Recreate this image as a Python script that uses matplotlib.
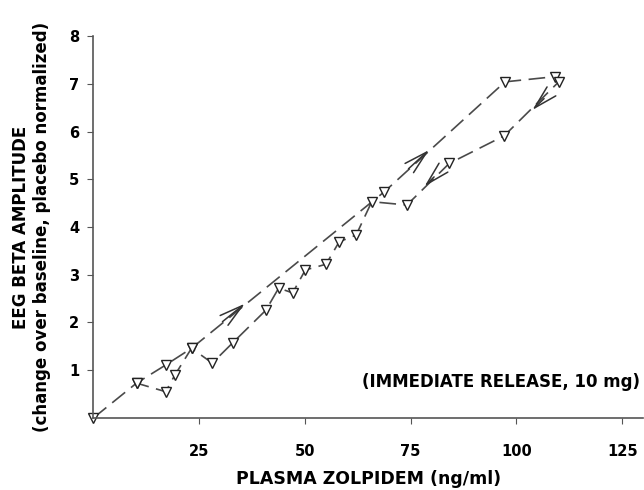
import matplotlib.pyplot as plt

# concentration (ng/ml) and EEG beta amplitude, in time order
conc = [0, 10.2, 17.1, 23.2, 68.8, 97.3, 109.2, 110.0,
        97.1, 84.1, 74.1, 65.8, 62.1, 58.1, 55.0, 50.1, 47.1, 43.8, 40.8,
        33.0, 28.1, 23.2, 19.2, 17.1, 10.2]
beta = [0, 0.73, 1.11, 1.46, 4.74, 7.04, 7.15, 7.04,
        5.91, 5.33, 4.46, 4.53, 3.83, 3.69, 3.22, 3.10, 2.62, 2.72, 2.26,
        1.58, 1.15, 1.46, 0.89, 0.55, 0.73]

# direction arrows: tip and a point behind it on the line
arrow_tip = [(36.3, 2.43), (79.8, 5.65), (103.3, 6.41), (77.8, 4.81)]
arrow_from = [(30.0, 1.98), (74.0, 5.18), (107.0, 6.73), (81.0, 5.09)]

xticks = [25, 50, 75, 100, 125]
yticks = [1, 2, 3, 4, 5, 6, 7, 8]

plt.rcParams['font.family'] = ['DejaVu Sans']

fig = plt.figure(figsize=(6.44, 4.90), dpi=100)
ax = fig.add_axes([0.145, 0.147, 0.854, 0.7795])

line_col = '#4a4a4a'
ax.plot(conc, beta, color=line_col, lw=1.2, dashes=(10, 4.5),
        marker='v', markersize=7.5, markerfacecolor='white',
        markeredgecolor='#222222', markeredgewidth=1.0, clip_on=False)

for tip, frm in zip(arrow_tip, arrow_from):
    ax.annotate('', xy=tip, xytext=frm,
                arrowprops=dict(arrowstyle='->,head_length=1.7,head_width=0.45',
                                color='#333333', lw=1.1))

ax.set_xlim(0, 130)
ax.set_ylim(0, 8)
ax.set_xticks(xticks)
ax.set_yticks(yticks)
ax.set_xticklabels([str(v) for v in xticks], fontweight='bold', fontsize=10.5)
ax.set_yticklabels([str(v) for v in yticks], fontweight='bold', fontsize=10.5)
ax.tick_params(axis='x', length=4, pad=15, color='#555555')
ax.tick_params(axis='y', length=4, pad=6, color='#555555')

for s in ['top', 'right']:
    ax.spines[s].set_visible(False)
for s in ['left', 'bottom']:
    ax.spines[s].set_color('#555555')
    ax.spines[s].set_linewidth(1.2)

ax.set_xlabel('PLASMA ZOLPIDEM (ng/ml)', fontweight='bold', fontsize=12.5,
              labelpad=8)
ax.set_ylabel('EEG BETA AMPLITUDE\n(change over baseline, placebo normalized)',
              fontweight='bold', fontsize=12, labelpad=13, linespacing=1.25)

ax.text(129.2, 0.75, '(IMMEDIATE RELEASE, 10 mg)', ha='right', va='center',
        fontweight='bold', fontsize=12)

fig.savefig('out.png', dpi=100)
